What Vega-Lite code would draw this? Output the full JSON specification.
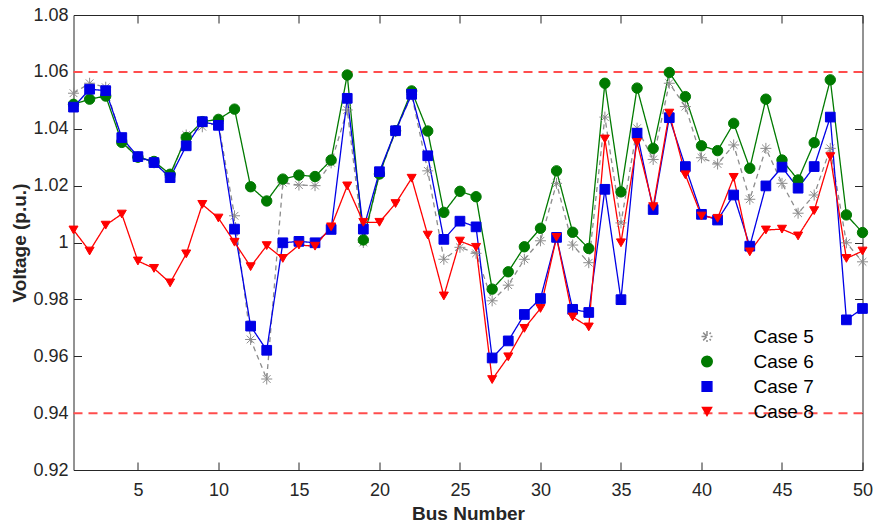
{
  "$schema": "https://vega.github.io/schema/vega-lite/v6.json",
  "width": 789,
  "height": 455,
  "autosize": {"type": "none"},
  "padding": {"left": 73.5, "top": 15, "right": 12.5, "bottom": 54},
  "background": "white",
  "config": {
    "view": {"stroke": null},
    "font": "Liberation Sans",
    "axis": {"grid": false, "labelFlush": false, "labelOverlap": false, "labelBound": false, "domainColor": "#262626", "tickColor": "#262626", "labelColor": "#262626", "titleColor": "#262626", "domainWidth": 1, "tickWidth": 1}
  },
  "datasets": {
    "volt": [
      {"b":1,"c":"Case 5","v":1.0525},{"b":2,"c":"Case 5","v":1.056},{"b":3,"c":"Case 5","v":1.0546},{"b":4,"c":"Case 5","v":1.036},{"b":5,"c":"Case 5","v":1.030},
      {"b":6,"c":"Case 5","v":1.028},{"b":7,"c":"Case 5","v":1.023},{"b":8,"c":"Case 5","v":1.0378},{"b":9,"c":"Case 5","v":1.0407},{"b":10,"c":"Case 5","v":1.042},
      {"b":11,"c":"Case 5","v":1.0094},{"b":12,"c":"Case 5","v":0.9659},{"b":13,"c":"Case 5","v":0.952},{"b":14,"c":"Case 5","v":1.021},{"b":15,"c":"Case 5","v":1.0202},
      {"b":16,"c":"Case 5","v":1.020},{"b":17,"c":"Case 5","v":1.028},{"b":18,"c":"Case 5","v":1.0466},{"b":19,"c":"Case 5","v":1.000},{"b":20,"c":"Case 5","v":1.024},
      {"b":21,"c":"Case 5","v":1.039},{"b":22,"c":"Case 5","v":1.052},{"b":23,"c":"Case 5","v":1.0252},{"b":24,"c":"Case 5","v":0.9941},{"b":25,"c":"Case 5","v":0.9983},
      {"b":26,"c":"Case 5","v":0.9962},{"b":27,"c":"Case 5","v":0.9795},{"b":28,"c":"Case 5","v":0.985},{"b":29,"c":"Case 5","v":0.9941},{"b":30,"c":"Case 5","v":1.0006},
      {"b":31,"c":"Case 5","v":1.0208},{"b":32,"c":"Case 5","v":0.9991},{"b":33,"c":"Case 5","v":0.9929},{"b":34,"c":"Case 5","v":1.0441},{"b":35,"c":"Case 5","v":1.0069},
      {"b":36,"c":"Case 5","v":1.0402},{"b":37,"c":"Case 5","v":1.0292},{"b":38,"c":"Case 5","v":1.056},{"b":39,"c":"Case 5","v":1.0478},{"b":40,"c":"Case 5","v":1.0298},
      {"b":41,"c":"Case 5","v":1.0276},{"b":42,"c":"Case 5","v":1.0343},{"b":43,"c":"Case 5","v":1.0152},{"b":44,"c":"Case 5","v":1.0331},{"b":45,"c":"Case 5","v":1.0208},
      {"b":46,"c":"Case 5","v":1.0103},{"b":47,"c":"Case 5","v":1.0167},{"b":48,"c":"Case 5","v":1.0331},{"b":49,"c":"Case 5","v":0.9999},{"b":50,"c":"Case 5","v":0.9932},

      {"b":1,"c":"Case 6","v":1.0486},{"b":2,"c":"Case 6","v":1.0504},{"b":3,"c":"Case 6","v":1.0515},{"b":4,"c":"Case 6","v":1.0352},{"b":5,"c":"Case 6","v":1.030},
      {"b":6,"c":"Case 6","v":1.0285},{"b":7,"c":"Case 6","v":1.024},{"b":8,"c":"Case 6","v":1.0369},{"b":9,"c":"Case 6","v":1.0425},{"b":10,"c":"Case 6","v":1.0433},
      {"b":11,"c":"Case 6","v":1.0469},{"b":12,"c":"Case 6","v":1.0196},{"b":13,"c":"Case 6","v":1.0146},{"b":14,"c":"Case 6","v":1.0223},{"b":15,"c":"Case 6","v":1.0237},
      {"b":16,"c":"Case 6","v":1.0232},{"b":17,"c":"Case 6","v":1.029},{"b":18,"c":"Case 6","v":1.0589},{"b":19,"c":"Case 6","v":1.0009},{"b":20,"c":"Case 6","v":1.0241},
      {"b":21,"c":"Case 6","v":1.0393},{"b":22,"c":"Case 6","v":1.0533},{"b":23,"c":"Case 6","v":1.0392},{"b":24,"c":"Case 6","v":1.0106},{"b":25,"c":"Case 6","v":1.018},
      {"b":26,"c":"Case 6","v":1.0161},{"b":27,"c":"Case 6","v":0.9836},{"b":28,"c":"Case 6","v":0.9897},{"b":29,"c":"Case 6","v":0.9985},{"b":30,"c":"Case 6","v":1.005},
      {"b":31,"c":"Case 6","v":1.0252},{"b":32,"c":"Case 6","v":1.0036},{"b":33,"c":"Case 6","v":0.9979},{"b":34,"c":"Case 6","v":1.056},{"b":35,"c":"Case 6","v":1.0178},
      {"b":36,"c":"Case 6","v":1.0543},{"b":37,"c":"Case 6","v":1.0331},{"b":38,"c":"Case 6","v":1.0598},{"b":39,"c":"Case 6","v":1.0513},{"b":40,"c":"Case 6","v":1.034},
      {"b":41,"c":"Case 6","v":1.0323},{"b":42,"c":"Case 6","v":1.0419},{"b":43,"c":"Case 6","v":1.0261},{"b":44,"c":"Case 6","v":1.0504},{"b":45,"c":"Case 6","v":1.029},
      {"b":46,"c":"Case 6","v":1.022},{"b":47,"c":"Case 6","v":1.0351},{"b":48,"c":"Case 6","v":1.0572},{"b":49,"c":"Case 6","v":1.0097},{"b":50,"c":"Case 6","v":1.0035},

      {"b":1,"c":"Case 7","v":1.0476},{"b":2,"c":"Case 7","v":1.0539},{"b":3,"c":"Case 7","v":1.0534},{"b":4,"c":"Case 7","v":1.0369},{"b":5,"c":"Case 7","v":1.0302},
      {"b":6,"c":"Case 7","v":1.0281},{"b":7,"c":"Case 7","v":1.0228},{"b":8,"c":"Case 7","v":1.034},{"b":9,"c":"Case 7","v":1.0425},{"b":10,"c":"Case 7","v":1.0412},
      {"b":11,"c":"Case 7","v":1.0047},{"b":12,"c":"Case 7","v":0.9706},{"b":13,"c":"Case 7","v":0.9621},{"b":14,"c":"Case 7","v":0.9999},{"b":15,"c":"Case 7","v":1.0004},
      {"b":16,"c":"Case 7","v":0.9999},{"b":17,"c":"Case 7","v":1.0046},{"b":18,"c":"Case 7","v":1.0507},{"b":19,"c":"Case 7","v":1.0047},{"b":20,"c":"Case 7","v":1.0249},
      {"b":21,"c":"Case 7","v":1.0393},{"b":22,"c":"Case 7","v":1.0521},{"b":23,"c":"Case 7","v":1.0305},{"b":24,"c":"Case 7","v":1.0011},{"b":25,"c":"Case 7","v":1.0075},
      {"b":26,"c":"Case 7","v":1.0055},{"b":27,"c":"Case 7","v":0.9594},{"b":28,"c":"Case 7","v":0.9654},{"b":29,"c":"Case 7","v":0.9747},{"b":30,"c":"Case 7","v":0.9803},
      {"b":31,"c":"Case 7","v":1.0018},{"b":32,"c":"Case 7","v":0.9765},{"b":33,"c":"Case 7","v":0.9754},{"b":34,"c":"Case 7","v":1.0187},{"b":35,"c":"Case 7","v":0.9799},
      {"b":36,"c":"Case 7","v":1.0384},{"b":37,"c":"Case 7","v":1.0116},{"b":38,"c":"Case 7","v":1.0439},{"b":39,"c":"Case 7","v":1.0267},{"b":40,"c":"Case 7","v":1.0099},
      {"b":41,"c":"Case 7","v":1.0079},{"b":42,"c":"Case 7","v":1.0167},{"b":43,"c":"Case 7","v":0.9987},{"b":44,"c":"Case 7","v":1.0199},{"b":45,"c":"Case 7","v":1.0265},
      {"b":46,"c":"Case 7","v":1.0191},{"b":47,"c":"Case 7","v":1.0267},{"b":48,"c":"Case 7","v":1.0441},{"b":49,"c":"Case 7","v":0.9728},{"b":50,"c":"Case 7","v":0.9768},

      {"b":1,"c":"Case 8","v":1.0044},{"b":2,"c":"Case 8","v":0.997},{"b":3,"c":"Case 8","v":1.0061},{"b":4,"c":"Case 8","v":1.01},{"b":5,"c":"Case 8","v":0.9935},
      {"b":6,"c":"Case 8","v":0.9909},{"b":7,"c":"Case 8","v":0.9858},{"b":8,"c":"Case 8","v":0.996},{"b":9,"c":"Case 8","v":1.0134},{"b":10,"c":"Case 8","v":1.0086},
      {"b":11,"c":"Case 8","v":1.0001},{"b":12,"c":"Case 8","v":0.9915},{"b":13,"c":"Case 8","v":0.9989},{"b":14,"c":"Case 8","v":0.9944},{"b":15,"c":"Case 8","v":0.9991},
      {"b":16,"c":"Case 8","v":0.9987},{"b":17,"c":"Case 8","v":1.0055},{"b":18,"c":"Case 8","v":1.0199},{"b":19,"c":"Case 8","v":1.0071},{"b":20,"c":"Case 8","v":1.0071},
      {"b":21,"c":"Case 8","v":1.0137},{"b":22,"c":"Case 8","v":1.0226},{"b":23,"c":"Case 8","v":1.0026},{"b":24,"c":"Case 8","v":0.9812},{"b":25,"c":"Case 8","v":1.0005},
      {"b":26,"c":"Case 8","v":0.9983},{"b":27,"c":"Case 8","v":0.9518},{"b":28,"c":"Case 8","v":0.9598},{"b":29,"c":"Case 8","v":0.9698},{"b":30,"c":"Case 8","v":0.9768},
      {"b":31,"c":"Case 8","v":1.0018},{"b":32,"c":"Case 8","v":0.9738},{"b":33,"c":"Case 8","v":0.9703},{"b":34,"c":"Case 8","v":1.0364},{"b":35,"c":"Case 8","v":0.9999},
      {"b":36,"c":"Case 8","v":1.0352},{"b":37,"c":"Case 8","v":1.0126},{"b":38,"c":"Case 8","v":1.0455},{"b":39,"c":"Case 8","v":1.0238},{"b":40,"c":"Case 8","v":1.0093},
      {"b":41,"c":"Case 8","v":1.0085},{"b":42,"c":"Case 8","v":1.0229},{"b":43,"c":"Case 8","v":0.9967},{"b":44,"c":"Case 8","v":1.0044},{"b":45,"c":"Case 8","v":1.0047},
      {"b":46,"c":"Case 8","v":1.0023},{"b":47,"c":"Case 8","v":1.0112},{"b":48,"c":"Case 8","v":1.0302},{"b":49,"c":"Case 8","v":0.9944},{"b":50,"c":"Case 8","v":0.997}
    ],
    "lims": [
      {"lim": 1.06, "xs": 1, "xe": 50},
      {"lim": 0.94, "xs": 1, "xe": 50}
    ]
  },
  "resolve": {"axis": {"x": "independent", "y": "independent"}},
  "layer": [
    {
      "data": {"name": "lims"},
      "mark": {"type": "rule", "color": "#FF4D4D", "strokeWidth": 2, "strokeDash": [9, 6]},
      "encoding": {
        "x": {"field": "xs", "type": "quantitative", "scale": {"domain": [1, 50], "nice": false, "zero": false},
              "axis": {"orient": "top", "values": [5,10,15,20,25,30,35,40,45,50], "labels": false, "domain": true, "ticks": true, "tickSize": -8, "title": null}},
        "x2": {"field": "xe"},
        "y": {"field": "lim", "type": "quantitative", "scale": {"domain": [0.92, 1.08], "nice": false, "zero": false},
              "axis": {"orient": "right", "values": [0.92,0.94,0.96,0.98,1,1.02,1.04,1.06,1.08], "labels": false, "domain": true, "ticks": true, "tickSize": -8, "title": null}}
      }
    },
    {
      "data": {"name": "volt"},
      "mark": {"type": "line", "strokeWidth": 1.3},
      "encoding": {
        "x": {"field": "b", "type": "quantitative", "scale": {"domain": [1, 50], "nice": false, "zero": false},
              "axis": {"orient": "bottom", "values": [5,10,15,20,25,30,35,40,45,50], "ticks": false, "tickSize": 0, "labelPadding": 11, "labelFontSize": 18, "domain": true,
                       "title": "Bus Number", "titleFontSize": 19, "titleFontWeight": "bold", "titleBaseline": "alphabetic", "titleY": 49.5}},
        "y": {"field": "v", "type": "quantitative", "scale": {"domain": [0.92, 1.08], "nice": false, "zero": false},
              "axis": {"orient": "left", "values": [0.92,0.94,0.96,0.98,1,1.02,1.04,1.06,1.08], "format": "~g", "ticks": false, "tickSize": 0, "labelPadding": 5.5, "labelFontSize": 18, "domain": true,
                       "title": "Voltage (p.u.)", "titleFontSize": 19, "titleFontWeight": "bold", "titleBaseline": "alphabetic", "titleX": -48.5, "titleY": 227.5, "titleAngle": -90, "titleAlign": "center"}},
        "color": {"field": "c", "type": "nominal", "scale": {"domain": ["Case 5","Case 6","Case 7","Case 8"], "range": ["#8C8C8C","#007A00","#0000E6","#FF0000"]},
                  "legend": {"orient": "bottom-right", "offset": 48, "title": null, "padding": 0, "symbolSize": 100, "labelOffset": 37, "labelFontSize": 19, "labelFont": "Liberation Sans", "labelColor": "#000000", "rowPadding": 5, "labelLimit": 200}},
        "strokeDash": {"field": "c", "type": "nominal", "scale": {"domain": ["Case 5","Case 6","Case 7","Case 8"], "range": [[5,4],[1,0],[1,0],[1,0]]}, "legend": null}
      }
    },
    {
      "data": {"name": "volt"},
      "mark": {"type": "point", "filled": true, "strokeWidth": 1, "opacity": 1},
      "encoding": {
        "x": {"field": "b", "type": "quantitative", "scale": {"domain": [1, 50], "nice": false, "zero": false},
              "axis": {"orient": "bottom", "values": [5,10,15,20,25,30,35,40,45,50], "labels": false, "domain": false, "ticks": true, "tickSize": -8, "title": null}},
        "y": {"field": "v", "type": "quantitative", "scale": {"domain": [0.92, 1.08], "nice": false, "zero": false},
              "axis": {"orient": "left", "values": [0.92,0.94,0.96,0.98,1,1.02,1.04,1.06,1.08], "labels": false, "domain": false, "ticks": true, "tickSize": -8, "title": null}},
        "fill": {"field": "c", "type": "nominal", "scale": {"domain": ["Case 5","Case 6","Case 7","Case 8"], "range": ["#8C8C8C","#007A00","#0000E6","#FF0000"]}, "legend": null},
        "stroke": {"field": "c", "type": "nominal", "scale": {"domain": ["Case 5","Case 6","Case 7","Case 8"], "range": ["#8C8C8C","#007A00","#0000E6","#FF0000"]}, "legend": null},
        "size": {"field": "c", "type": "nominal", "scale": {"domain": ["Case 5","Case 6","Case 7","Case 8"], "range": [121, 81, 49, 150]}, "legend": null},
        "shape": {"field": "c", "type": "nominal",
                  "scale": {"domain": ["Case 5","Case 6","Case 7","Case 8"], "range": ["M-1,0L1,0M0,-1L0,1M-0.7,-0.7L0.7,0.7M-0.7,0.7L0.7,-0.7", "circle", "square", "triangle-down"]},
                  "legend": null}
      }
    }
  ]
}
